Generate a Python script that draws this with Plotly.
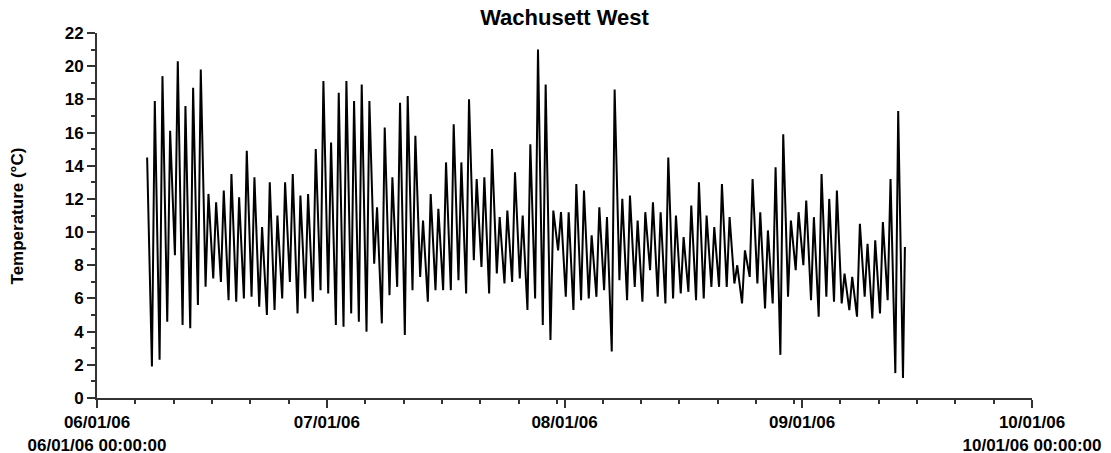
import pandas as pd
import plotly.graph_objects as go

# ---- data (daily maximum / following minimum, °C) ----
start_day = "2006-06-07"
daily_max = [
    14.5, 17.9, 19.4, 16.1, 20.3, 17.6, 18.7, 19.8, 12.3, 11.8,
    12.5, 13.5, 12.1, 14.9, 13.3, 10.3, 13.0, 11.0, 13.0, 13.5,
    12.2, 12.3, 15.0, 19.1, 15.4, 18.4, 19.1, 17.9, 18.9, 17.9,
    11.5, 16.3, 13.3, 17.8, 18.2, 15.8, 10.7, 12.3, 11.4, 14.2,
    16.5, 14.2, 18.0, 13.2, 13.3, 15.0, 10.9, 11.3, 13.6, 11.0,
    15.3, 21.0, 18.9, 11.3, 11.2, 11.2, 12.9, 12.5, 9.8, 11.5,
    10.9, 18.6, 12.0, 12.2, 10.7, 11.2, 11.8, 11.2, 14.5, 11.0,
    9.7, 11.6, 13.0, 11.0, 10.3, 12.9, 10.9, 8.0, 8.9, 13.2,
    11.2, 10.1, 13.9, 15.9, 10.7, 11.2, 11.9, 10.9, 13.5, 12.0,
    12.5, 7.5, 7.3, 10.5, 9.3, 9.5, 10.6, 13.2, 17.3,
]
daily_min = [
    1.9, 2.3, 4.6, 8.6, 4.4, 4.2, 5.6, 6.7, 7.2, 7.0,
    5.9, 5.8, 6.0, 6.1, 5.5, 5.0, 5.3, 6.0, 7.0, 5.1,
    6.0, 5.8, 6.5, 6.3, 4.4, 4.3, 5.1, 4.6, 4.0, 8.1,
    4.5, 6.2, 6.7, 3.8, 6.5, 7.3, 5.8, 6.5, 6.5, 6.5,
    7.1, 6.3, 8.3, 7.9, 6.3, 7.5, 6.9, 7.0, 7.2, 5.3,
    6.0, 4.4, 3.5, 8.9, 6.1, 5.3, 5.9, 6.0, 6.1, 6.5,
    2.8, 7.1, 5.9, 6.7, 5.8, 7.7, 6.1, 5.7, 6.0, 6.3,
    6.4, 5.9, 6.0, 6.7, 6.7, 6.7, 6.9, 5.7, 7.3, 6.9,
    5.4, 5.7, 2.6, 6.1, 7.7, 8.0, 5.9, 4.9, 6.1, 5.8,
    5.7, 5.3, 4.9, 6.1, 4.8, 5.1, 5.9, 1.5, 1.2,
]
end_time = "2006-09-14 10:00"
end_value = 9.1

major_dates = ["2006-06-01", "2006-07-01", "2006-08-01", "2006-09-01", "2006-10-01"]
major_labels = ["06/01/06<br>06/01/06 00:00:00", "07/01/06", "08/01/06", "09/01/06",
                "10/01/06<br>10/01/06 00:00:00"]

# ---- build the time series ----
days = pd.date_range(start_day, periods=len(daily_max), freq="D")
xs, ys = [], []
for d, hi, lo in zip(days, daily_max, daily_min):
    xs += [d + pd.Timedelta(hours=13), d + pd.Timedelta(hours=28)]
    ys += [hi, lo]
xs.append(pd.Timestamp(end_time))
ys.append(end_value)

# minor ticks: every 5 days inside each month (6, 11, 16, 21, 26, 31)
minor_vals = []
for m in range(6, 10):
    for dd in (6, 11, 16, 21, 26, 31):
        try:
            minor_vals.append(pd.Timestamp(2006, m, dd))
        except ValueError:
            pass

font_family = "Arial, 'Liberation Sans', sans-serif"
axis_color = "#333333"

fig = go.Figure()
fig.add_trace(go.Scatter(x=xs, y=ys, mode="lines",
                         line=dict(color="black", width=2), showlegend=False))

fig.update_layout(
    width=1111, height=453,
    margin=dict(l=97, r=79, t=33, b=55),
    paper_bgcolor="white", plot_bgcolor="white",
    font=dict(family=font_family, color="black"),
    title=dict(text="Wachusett West", x=0.5, xref="paper", xanchor="center",
               y=1 - 17 / 453, yanchor="middle",
               font=dict(size=22, family=font_family, weight="bold", color="black")),
    xaxis=dict(
        type="date", range=["2006-06-01", "2006-10-01"], automargin=False,
        tickmode="array", tickvals=major_dates, ticktext=major_labels,
        ticks="outside", ticklen=8, tickwidth=1.5, tickcolor=axis_color,
        showline=True, linecolor=axis_color, linewidth=2,
        showgrid=False, zeroline=False,
        tickfont=dict(size=17, family=font_family, weight="bold", color="black"),
        minor=dict(tickmode="array", tickvals=minor_vals, ticks="outside",
                   ticklen=4, tickwidth=1.5, tickcolor=axis_color, showgrid=False),
    ),
    yaxis=dict(
        range=[0, 22], tickmode="linear", tick0=0, dtick=2, automargin=False,
        ticks="outside", ticklen=8, tickwidth=1.5, tickcolor=axis_color,
        showline=True, linecolor=axis_color, linewidth=2,
        showgrid=False, zeroline=False,
        tickfont=dict(size=17, family=font_family, weight="bold", color="black"),
        minor=dict(dtick=1, ticks="outside", ticklen=4, tickwidth=1.5,
                   tickcolor=axis_color, showgrid=False),
    ),
    annotations=[dict(text="Temperature (°C)", textangle=-90, xref="paper", yref="paper",
                      x=-0.0845, y=0.5, xanchor="center", yanchor="middle", showarrow=False,
                      font=dict(size=17, family=font_family, weight="bold", color="black"))],
)

# remove the browser's default 8px page margin so the figure fills the window exactly
fig.write_html("out.html", config={"displayModeBar": False},
               post_script="document.body.style.margin='0px';")
